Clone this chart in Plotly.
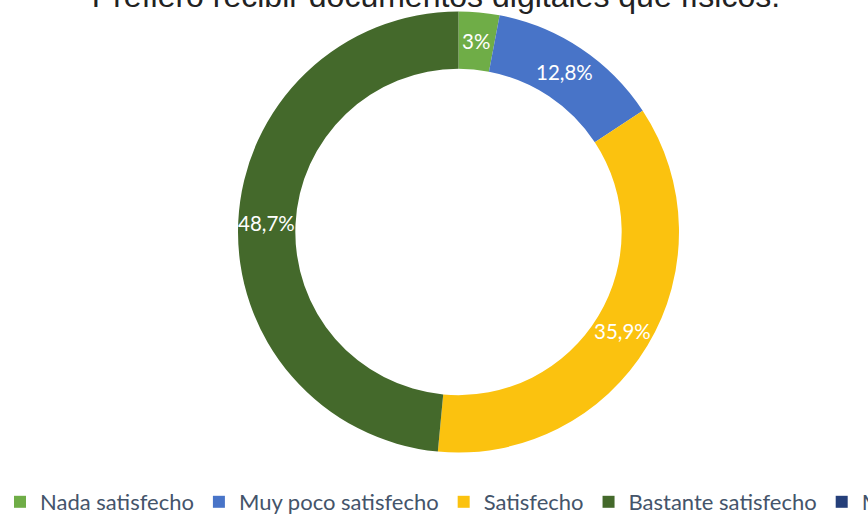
import math
import plotly.graph_objects as go

# Survey answers for "Prefiero recibir documentos digitales que físicos."
categories = ["Nada satisfecho", "Muy poco satisfecho", "Satisfecho",
              "Bastante satisfecho", "Muy satisfecho"]
percentages = [3, 12.8, 35.9, 48.7, 0]
slice_colors = ["#6FAD47", "#4874C8", "#FBC20F", "#44692B", "#253F7A"]

# The canvas is larger than the visible page so the legend runs past its edges
FIG_W, FIG_H = 1100, 523
CX, CY, R = 458.5, 232, 220.5     # donut centre and outer radius in pixels
HOLE = 0.74

fig = go.Figure(
    go.Pie(
        labels=categories,
        values=percentages,
        textinfo="none",
        hole=HOLE,
        sort=False,
        direction="clockwise",
        rotation=0,
        marker=dict(colors=slice_colors, line=dict(width=0)),
        domain=dict(
            x=[(CX - R) / FIG_W, (CX + R) / FIG_W],
            y=[1 - (CY + R) / FIG_H, 1 - (CY - R) / FIG_H],
        ),
        hoverinfo="label+percent",
    )
)

# Percentage labels sit at the middle of each ring segment (mid-angle, mid-radius)
total = sum(percentages)
r_mid = R * (1 + HOLE) / 2
cumulative = 0.0
for value in percentages:
    if value <= 0:
        continue
    mid = (cumulative + value / 2) / total * 2 * math.pi
    cumulative += value
    px = CX + r_mid * math.sin(mid)
    py = CY - r_mid * math.cos(mid)
    fig.add_annotation(
        x=px / FIG_W, y=1 - py / FIG_H, xref="paper", yref="paper",
        text=f"{value:g}".replace(".", ",") + "%",
        showarrow=False,
        font=dict(family="Lato", size=20.5, color="white"),
        xanchor="center", yanchor="middle",
    )

fig.update_layout(
    width=FIG_W,
    height=FIG_H,
    margin=dict(l=0, r=0, t=0, b=0, autoexpand=False),
    paper_bgcolor="white",
    plot_bgcolor="white",
    title=dict(
        text="Prefiero recibir documentos digitales que físicos.",
        font=dict(family="Liberation Sans, Arial", size=32, color="#222222"),
        x=436 / FIG_W,
        xanchor="center",
        xref="container",
        y=1 - 6.5 / FIG_H,
        yanchor="bottom",
        yref="container",
    ),
    showlegend=True,
    legend=dict(
        orientation="h",
        x=0,
        xanchor="left",
        y=0,
        yanchor="bottom",
        font=dict(family="Lato", size=22, color="#44546A"),
        bgcolor="rgba(0,0,0,0)",
        traceorder="normal",
    ),
)

fig.write_html(
    "out.html",
    post_script="document.documentElement.style.overflow='hidden';"
                "document.body.style.overflow='hidden';",
)
